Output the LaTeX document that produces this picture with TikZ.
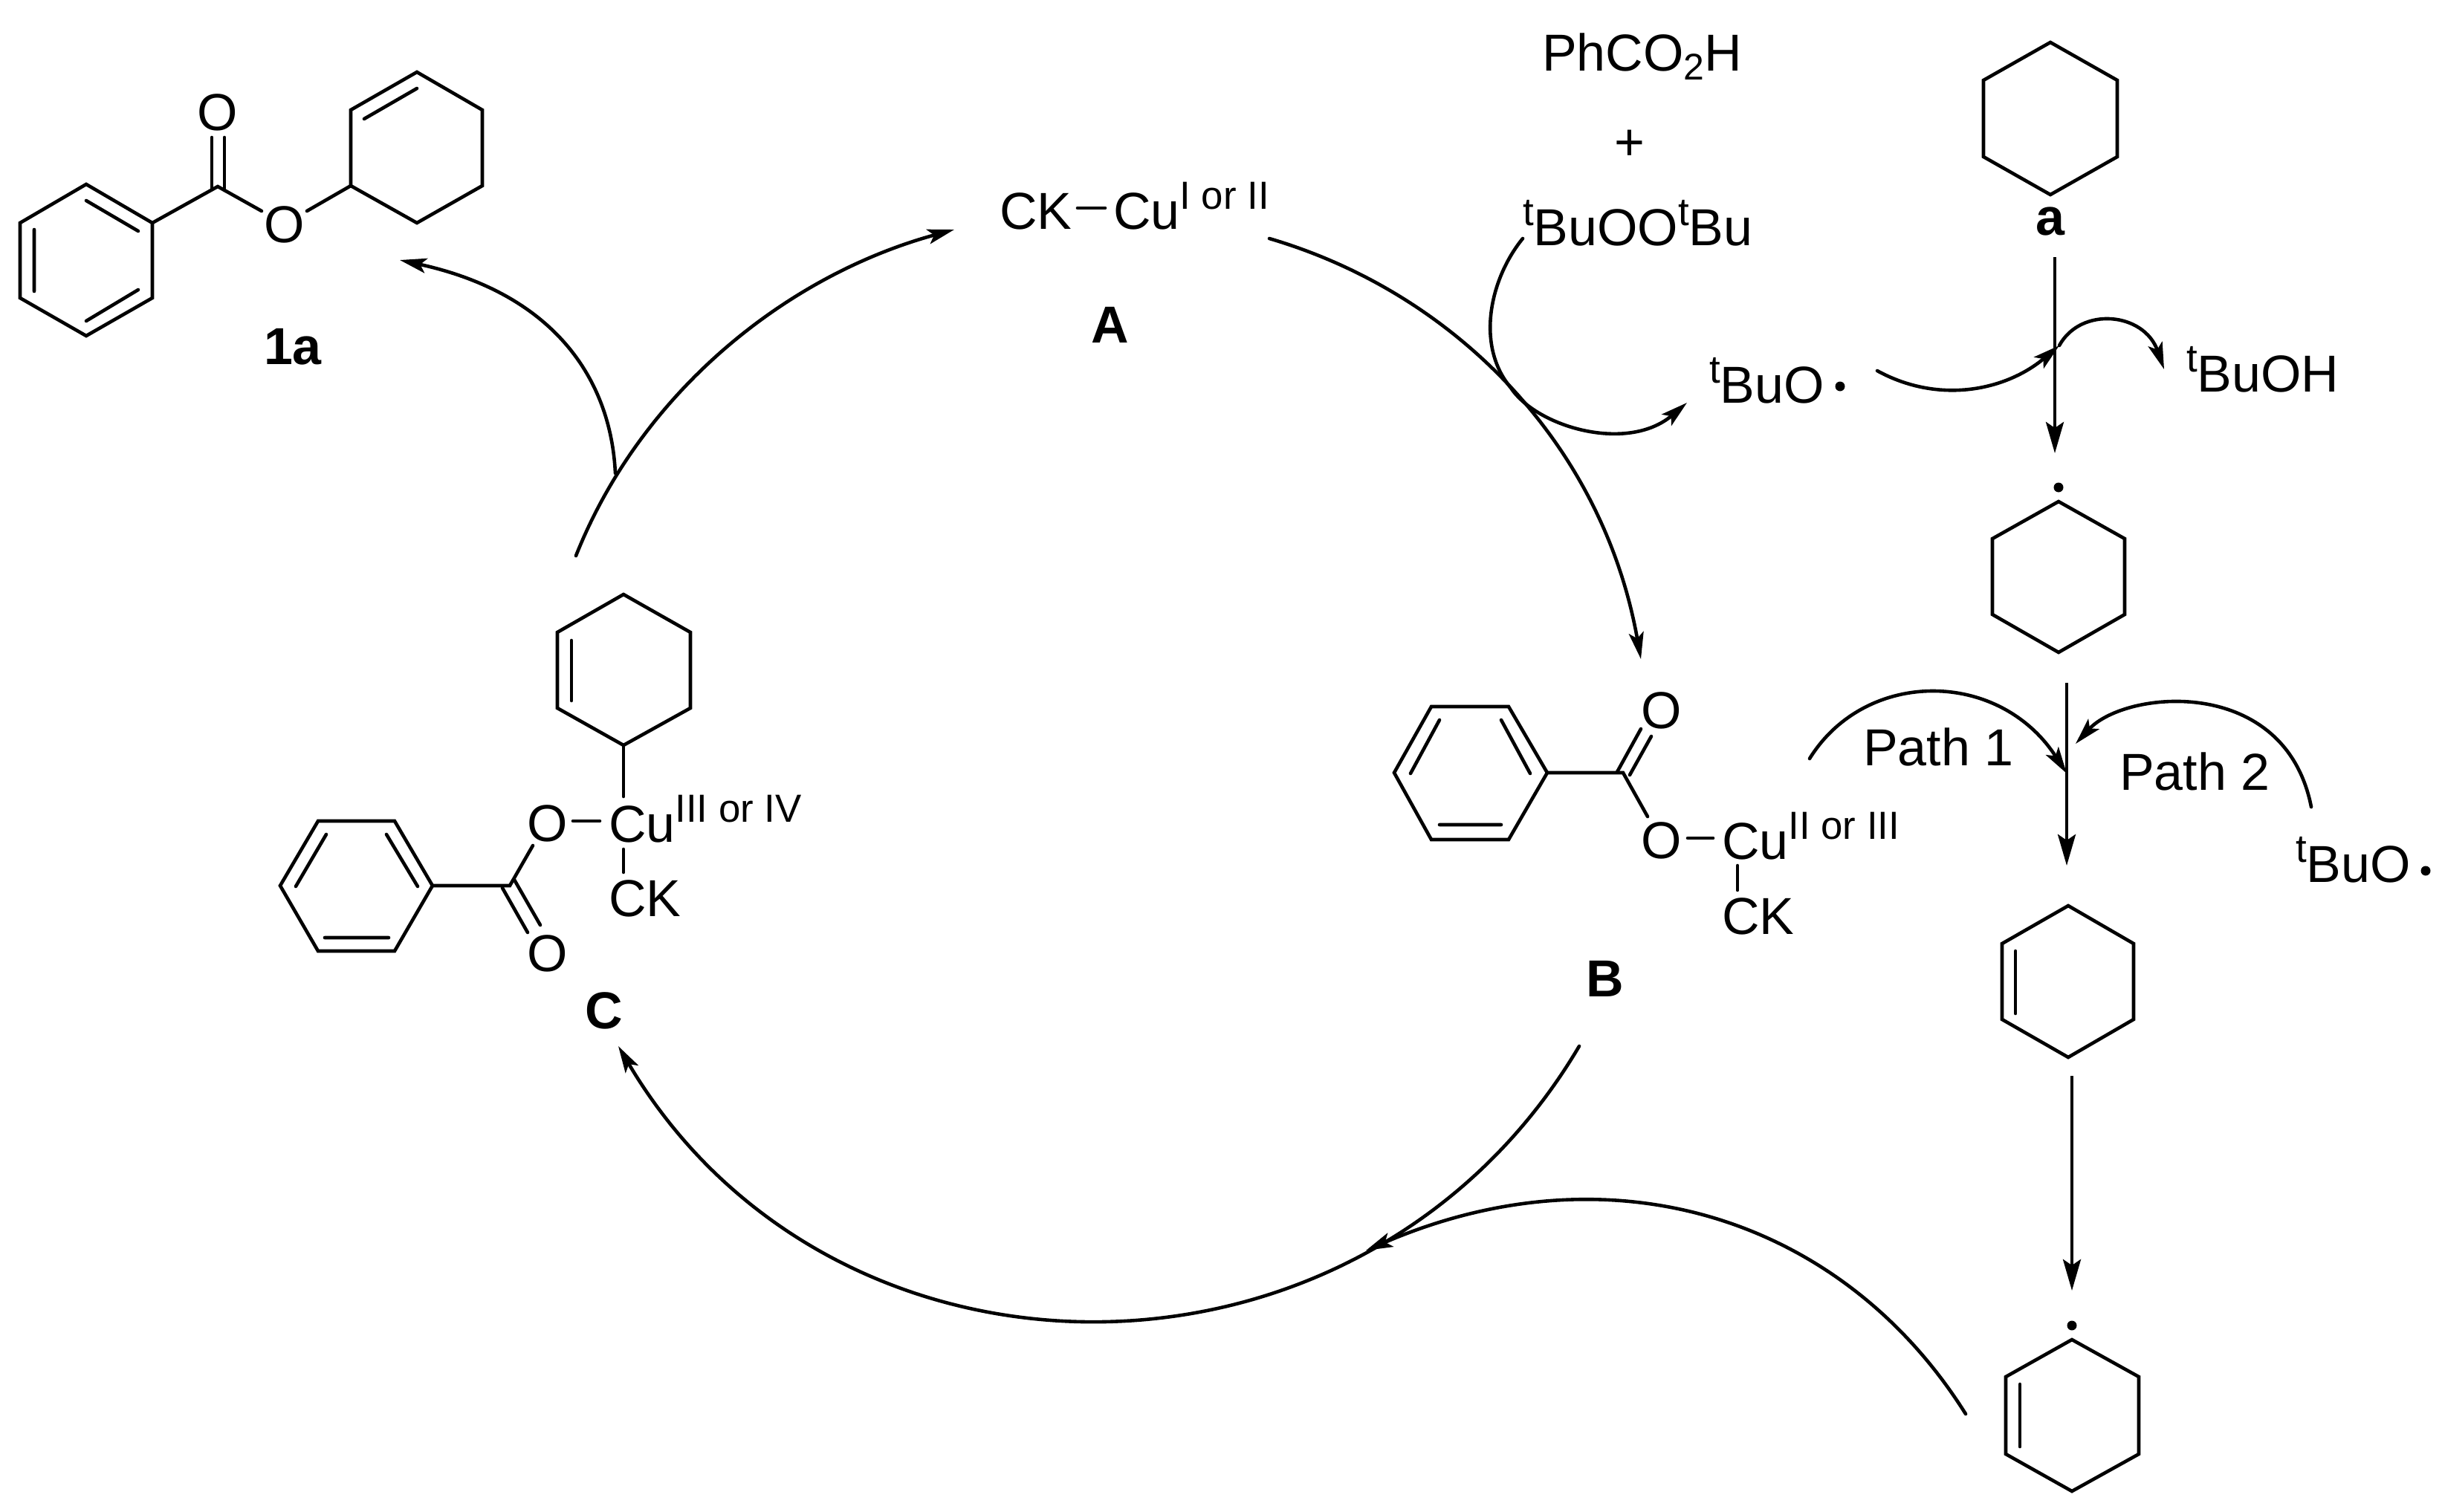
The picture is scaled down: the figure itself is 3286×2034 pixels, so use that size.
\documentclass[tikz,border=0pt]{standalone}
\usepackage{fontspec}
\setmainfont{Liberation Sans}
\usetikzlibrary{arrows.meta}
\newcommand{\bigf}{\fontsize{17.5pt}{20pt}\selectfont}
\newcommand{\supf}[1]{\raisebox{6.75pt}{\fontsize{13.2pt}{15pt}\selectfont #1}}
\newcommand{\subf}[1]{\raisebox{-3.2pt}{\fontsize{12.5pt}{14pt}\selectfont #1}}
\newcommand{\hexa}[6]{\draw[bond] (#1) -- (#2) -- (#3) -- (#4) -- (#5) -- (#6) -- cycle;}
\tikzset{
  bond/.style={line width=1.15pt,line join=miter,line cap=round},
  txt/.style={inner sep=0,outer sep=0,anchor=base west,font=\bigf},
  atom/.style={inner sep=0,outer sep=0,anchor=center,font=\bigf},
  lab/.style={inner sep=0,outer sep=0,anchor=center,font=\bigf\bfseries},
  rad/.style={circle,fill=black,inner sep=0,minimum size=3.25pt},
  arc/.style={line width=1.15pt,line cap=round,-{Stealth[length=9pt,width=5pt,inset=2pt]}},
  vert/.style={line width=1.15pt,-{Stealth[length=10.5pt,width=6pt,inset=2pt]}}
}
\begin{document}
\begin{tikzpicture}[x=0.25pt,y=-0.25pt]
\useasboundingbox (0,0) rectangle (3286,2034);
% ---- product 1a
\hexa{116,248}{205,300}{205,401}{116,452}{27,401}{27,300}
\draw[bond] (116,270) -- (186,311) (46,309) -- (46,392) (116,432) -- (186,390);
\node[atom] (o1a) at (293,151) {O};
\node[atom] (o2a) at (383,302) {O};
\node[lab] (l1a) at (394,467) {1a};
\draw[bond] (205,300) -- (293,251) -- (352,284);
\draw[bond] (285,185) -- (285,255) (302,185) -- (302,256);
\draw[bond] (413,284) -- (472,250);
\hexa{561,97}{649,148}{649,250}{561,300}{472,250}{472,148}
\draw[bond] (490,160) -- (561,119);
% ---- A
\node[txt] (ck) at (1345,308) {CK};
\node[txt] (cua) at (1498,308) {Cu\supf{I or II}};
\coordinate (ba) at (1450,280); \coordinate (bb) at (1487,280);
\draw[bond] (ba) -- (bb);
\node[lab] (la) at (1494,437) {A};
% ---- reagents
\node[txt] (acid) at (2075,95) {PhCO\subf{2}H};
\node[atom] (plus) at (2193,195) {+};
\node[txt] (perox) at (2049,330) {\supf{t}BuOO\supf{t}Bu};
\node[txt] (tbo1) at (2300,542) {\supf{t}BuO};
\node[rad] (d1) at (2476,520) {};
\node[txt] (tboh) at (2942,527) {\supf{t}BuOH};
\node[txt] (tbo2) at (3089,1187) {\supf{t}BuO};
\node[rad] (d2) at (3264,1172) {};
% ---- right column
\hexa{2759,57}{2849,108}{2849,211}{2759,262}{2669,211}{2669,108}
\node[lab] (lsa) at (2759,298) {a};
\node[rad] (d3) at (2770,656) {};
\hexa{2770,675}{2859,725}{2859,827}{2770,878}{2681,827}{2681,725}
\hexa{2783,1219}{2871,1270}{2871,1372}{2783,1423}{2694,1372}{2694,1270}
\draw[bond] (2712,1280) -- (2712,1364);
\node[rad] (d4) at (2788,1784) {};
\hexa{2788,1803}{2878,1853}{2878,1957}{2788,2007}{2699,1957}{2699,1853}
\draw[bond] (2718,1863) -- (2718,1947);
\coordinate (v1a) at (2765,346); \coordinate (v1b) at (2765,610);
\coordinate (v2a) at (2781,919); \coordinate (v2b) at (2781,1165);
\coordinate (v3a) at (2788,1448); \coordinate (v3b) at (2788,1737);
\draw[vert] (v1a) -- (v1b);
\draw[vert] (v2a) -- (v2b);
\draw[vert] (v3a) -- (v3b);
\node[txt] (p1) at (2507,1030) {Path 1};
\node[txt] (p2) at (2852,1063) {Path 2};
% ---- B
\hexa{1926,951}{2030,951}{2082,1040}{2030,1130}{1926,1130}{1876,1040}
\draw[bond] (1937,969) -- (1898,1041) (2020,969) -- (2059,1041) (1937,1110) -- (2020,1110);
\draw[bond] (2082,1040) -- (2184,1040) -- (2217,1099);
\draw[bond] (2176,1039) -- (2208,981) (2193,1043) -- (2222,991);
\node[atom] (ob1) at (2236,956) {O};
\node[atom] (ob2) at (2236,1131) {O};
\node[txt] (cub) at (2317,1156) {Cu\supf{II or III}};
\node[txt] (ckb) at (2317,1257) {CK};
\draw[bond] (2271,1128) -- (2305,1128) (2338,1165) -- (2338,1198);
\node[lab] (lb) at (2160,1317) {B};
% ---- C
\hexa{428,1105}{531,1105}{582,1192}{531,1280}{428,1280}{377,1192}
\draw[bond] (439,1123) -- (398,1193) (520,1123) -- (562,1193) (437,1262) -- (523,1262);
\draw[bond] (582,1192) -- (686,1192) -- (717,1138);
\draw[bond] (676,1195) -- (710,1255) (692,1184) -- (727,1245);
\node[atom] (oc1) at (737,1108) {O};
\node[atom] (oc2) at (737,1283) {O};
\node[txt] (cuc) at (819,1133) {Cu\supf{III or IV}};
\node[txt] (ckc) at (819,1233) {CK};
\draw[bond] (771,1105) -- (807,1105) (839,1072) -- (839,1003) (839,1143) -- (839,1174);
\hexa{839,800}{929,851}{929,953}{839,1003}{750,953}{750,851}
\draw[bond] (769,862) -- (769,943);
\node[lab] (lc) at (813,1360) {C};
% ---- curved arrows
\coordinate (c1s) at (775,748); \coordinate (c1e) at (1284,309);
\draw[arc] (c1s) .. controls (862,529) and (1057,371) .. (c1e);
\coordinate (c2s) at (828,637); \coordinate (c2e) at (538,350);
\draw[arc] (c2s) .. controls (822,510) and (745,395) .. (c2e);
\coordinate (c3s) at (1708,321); \coordinate (c3e) at (2208,887);
\draw[arc] (c3s) .. controls (1960,395) and (2157,600) .. (c3e);
\coordinate (c4s) at (2125,1408); \coordinate (c4e) at (832,1408);
\draw[arc] (c4s) .. controls (1835,1899) and (1122,1899) .. (c4e);
\coordinate (c5s) at (2645,1903); \coordinate (c5e) at (1838,1683);
\draw[arc] (c5s) .. controls (2480,1640) and (2170,1540) .. (c5e);
\coordinate (c6s) at (2049,321); \coordinate (c6m) at (2033,522); \coordinate (c6e) at (2270,542);
\draw[arc] (c6s) .. controls (2005,375) and (1985,465) .. (c6m) .. controls (2068,575) and (2190,610) .. (c6e);
\coordinate (c7s) at (2526,499); \coordinate (c7e) at (2771,465);
\draw[arc] (c7s) .. controls (2610,545) and (2700,525) .. (c7e);
\coordinate (c8e) at (2912,497);
\draw[arc] (c7e) .. controls (2800,412) and (2885,420) .. (c8e);
\coordinate (c9s) at (2435,1021); \coordinate (c9e) at (2781,1041);
\draw[arc] (c9s) .. controls (2510,900) and (2690,900) .. (c9e);
\coordinate (c10s) at (3110,1086); \coordinate (c10e) at (2793,1001);
\draw[arc] (c10s) .. controls (3075,908) and (2860,928) .. (c10e);
\end{tikzpicture}
\end{document}
